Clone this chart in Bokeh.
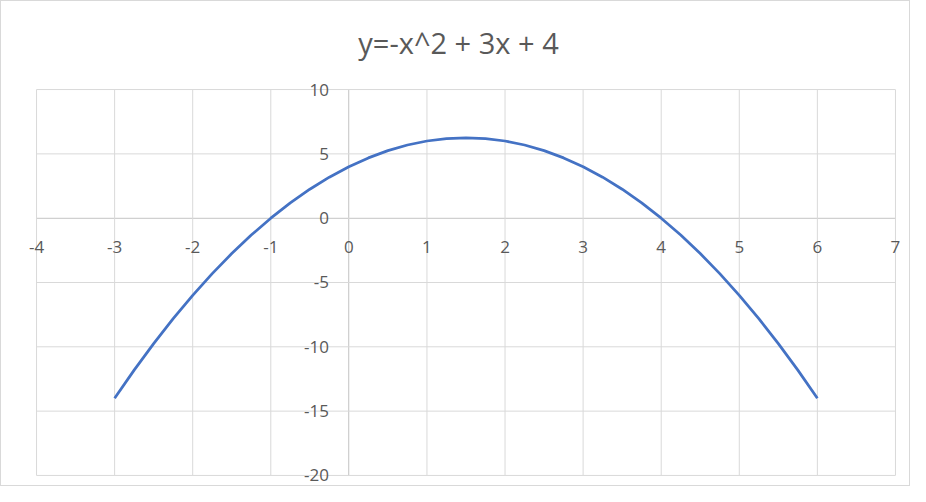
from bokeh.plotting import figure
from bokeh.models import FixedTicker, Range1d, ColumnDataSource, LabelSet
from bokeh.core.properties import value
from bokeh.embed import file_html
from bokeh.resources import INLINE

title_text = "y=-x^2 + 3x + 4"
x_vals = [-3, -2.75, -2.5, -2.25, -2, -1.75, -1.5, -1.25, -1, -0.75, -0.5, -0.25,
          0, 0.25, 0.5, 0.75, 1, 1.25, 1.5, 1.75, 2, 2.25, 2.5, 2.75,
          3, 3.25, 3.5, 3.75, 4, 4.25, 4.5, 4.75, 5, 5.25, 5.5, 5.75, 6]
y_vals = [-14, -11.8125, -9.75, -7.8125, -6, -4.3125, -2.75, -1.3125, 0, 1.1875, 2.25, 3.1875,
          4, 4.6875, 5.25, 5.6875, 6, 6.1875, 6.25, 6.1875, 6, 5.6875, 5.25, 4.6875,
          4, 3.1875, 2.25, 1.1875, 0, -1.3125, -2.75, -4.3125, -6, -7.8125, -9.75, -11.8125, -14]
x_ticks = [-4, -3, -2, -1, 0, 1, 2, 3, 4, 5, 6, 7]
y_ticks = [-20, -15, -10, -5, 0, 5, 10]
x_tick_labels = ["-4", "-3", "-2", "-1", "0", "1", "2", "3", "4", "5", "6", "7"]
y_tick_labels = ["-20", "-15", "-10", "-5", "0", "5", "10"]

TXT = "#595959"
FONT = "Open Sans"
GRID = "#d9d9d9"

# ranges padded a little beyond the tick extent so edge labels are not clipped
p = figure(width=910, height=486, output_backend="svg", toolbar_location=None,
           x_range=Range1d(-4.295, 7.103), y_range=Range1d(-20.9375, 10.78125),
           min_border_left=12, min_border_right=8, min_border_top=78, min_border_bottom=0,
           title=title_text)
p.title.align = "center"
p.title.text_font = FONT
p.title.text_font_size = "29px"
p.title.text_font_style = "normal"
p.title.text_color = TXT
p.title.standoff = 35
p.outline_line_color = None
p.grid.visible = False

# grid drawn over the tick extent only
xmin, xmax = x_ticks[0], x_ticks[-1]
ymin, ymax = y_ticks[0], y_ticks[-1]
p.segment(x0=x_ticks, x1=x_ticks, y0=[ymin] * len(x_ticks), y1=[ymax] * len(x_ticks),
          line_color=GRID, line_width=1)
p.segment(x0=[xmin] * len(y_ticks), x1=[xmax] * len(y_ticks), y0=y_ticks, y1=y_ticks,
          line_color=GRID, line_width=1)

for ax, ticks, bnds in ((p.xaxis[0], x_ticks, (xmin, xmax)), (p.yaxis[0], y_ticks, (ymin, ymax))):
    ax.ticker = FixedTicker(ticks=ticks)
    ax.fixed_location = 0
    ax.bounds = bnds
    ax.axis_line_color = "#bfbfbf"
    ax.axis_line_width = 1
    ax.major_tick_line_color = None
    ax.minor_tick_line_color = None
    ax.major_label_text_color = None
    ax.level = "underlay"

p.line(x_vals, y_vals, line_color="#4472c4", line_width=2.75)

xsrc = ColumnDataSource(dict(x=x_ticks, y=[0] * len(x_ticks), t=x_tick_labels))
ysrc = ColumnDataSource(dict(x=[0] * len(y_ticks), y=y_ticks, t=y_tick_labels))
p.add_layout(LabelSet(x="x", y="y", text="t", source=xsrc, y_offset=-29,
                      text_align="center", text_baseline="middle",
                      text_font=value(FONT), text_font_size="17px", text_color=TXT))
p.add_layout(LabelSet(x="x", y="y", text="t", source=ysrc, x_offset=-20,
                      text_align="right", text_baseline="middle",
                      text_font=value(FONT), text_font_size="17px", text_color=TXT))

p.styles = {"border": "1px solid #d9d9d9", "box-sizing": "border-box"}

open("out.html", "w").write(file_html(p, INLINE))
